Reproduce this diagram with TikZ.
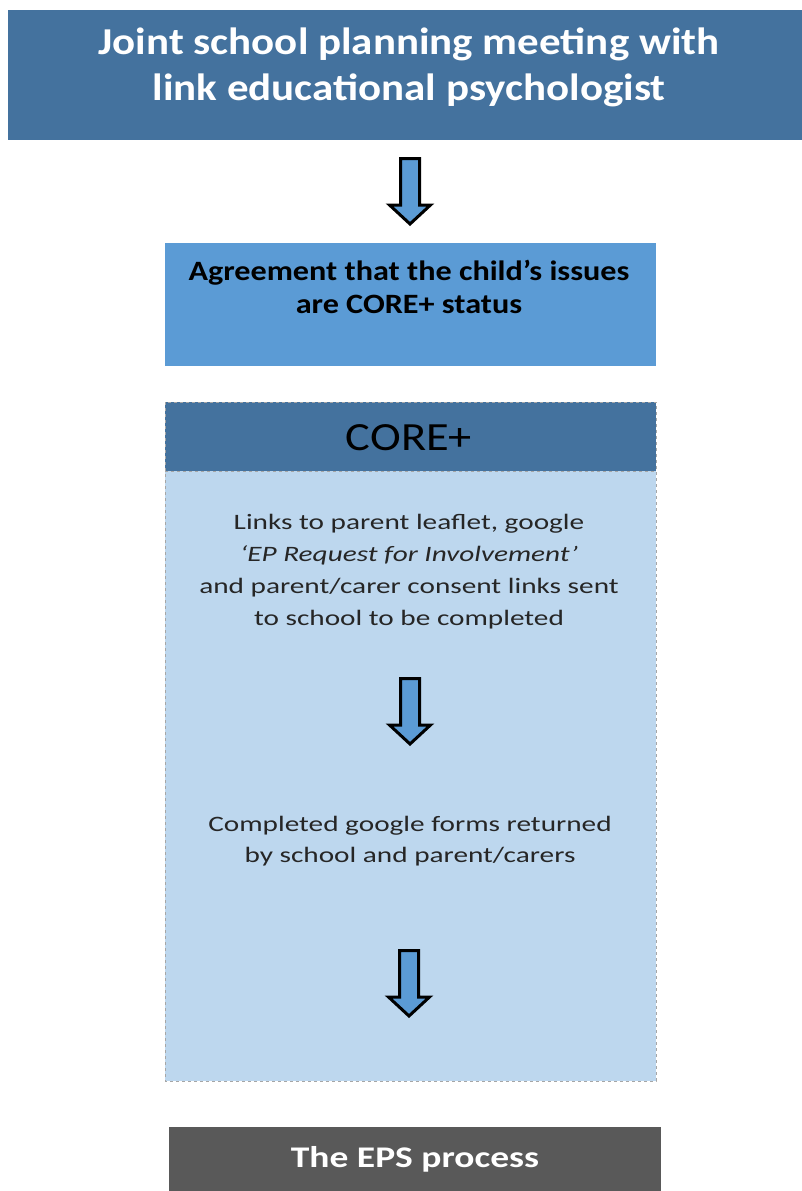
\documentclass[tikz,border=0pt]{standalone}
\usepackage{fontspec}
\setmainfont{Carlito}
\newfontfamily\headfont{Carlito}[FakeStretch=1.13]
\newfontfamily\agreefont{Carlito}[FakeStretch=1.15]
\newfontfamily\titlefont{Carlito}[FakeStretch=1.16]
\newfontfamily\bodyfont{Carlito}[FakeStretch=1.33]
\newfontfamily\epsfont{Carlito}[FakeStretch=1.25]
\definecolor{steel}{HTML}{44729E}
\definecolor{accent}{HTML}{5B9BD5}
\definecolor{pale}{HTML}{BDD7EE}
\definecolor{slate}{HTML}{595959}
\definecolor{dashgray}{HTML}{A6A6A6}
\definecolor{ink}{HTML}{262626}
\begin{document}
\begin{tikzpicture}[x=1pt,y=-1pt,
  panel/.style={inner sep=0pt, outer sep=0pt},
  bodytext/.style={text=ink, align=center, font=\bodyfont\fontsize{22}{32}\selectfont},
  downarrow/.pic={
    \draw[line width=3pt, line join=miter, fill=accent]
      (-9.5,-33) -- (9.5,-33) -- (9.5,13.5) -- (20.5,13.5) -- (0,32.5)
      -- (-20.5,13.5) -- (-9.5,13.5) -- cycle;
  }]
% page
\fill[white] (0,0) rectangle (802,1191);
\useasboundingbox (0,0) rectangle (802,1191);

% planning meeting banner
\node[panel, fill=steel, minimum width=794pt, minimum height=130pt] (meeting) at (405,75) {};
\node[text=white, align=center, font=\headfont\fontsize{38}{46}\selectfont\bfseries] (meetingtext) at (409,67)
  {Joint school planning meeting with\\link educational psychologist};

\pic (arrA) at (410,191.5) {downarrow};

% agreement box
\node[panel, fill=accent, minimum width=491pt, minimum height=123pt] (agree) at (410.5,304.5) {};
\node[text=black, align=center, font=\agreefont\fontsize{28}{33}\selectfont\bfseries] (agreetext) at (409,287)
  {Agreement that the child’s issues\\are CORE+ status};

% CORE+ container
\node[panel, fill=pale, minimum width=491pt, minimum height=679pt] (core) at (410.5,741.5) {};
\node[panel, fill=steel, minimum width=491pt, minimum height=69pt] (corehead) at (410.5,436.5) {};
\draw[dashgray, dashed, line width=0.8pt] (core.north west) rectangle (core.south east);
\draw[dashgray, dashed, line width=0.8pt] (corehead.south west) -- (corehead.south east);
\node[text=black, font=\titlefont\fontsize{40}{44}\selectfont] (coretitle) at (409,438) {CORE+};

\node[bodytext] (links) at (409,572)
  {Links to parent leaflet, google\\\textit{‘EP Request for Involvement’}\\and parent/carer consent links sent\\to school to be completed};

\pic (arrB) at (410,711.5) {downarrow};

\node[bodytext, font=\bodyfont\fontsize{22}{31}\selectfont] (returned) at (410,841)
  {Completed google forms returned\\by school and parent/carers};

\pic (arrC) at (409,983.5) {downarrow};

% next stage
\node[panel, fill=slate, minimum width=492pt, minimum height=70pt] (eps) at (415,1162) {};
\node[text=white, font=\epsfont\fontsize{30}{32}\selectfont\bfseries] (epstext) at (415,1159) {The EPS process};
\end{tikzpicture}
\end{document}
